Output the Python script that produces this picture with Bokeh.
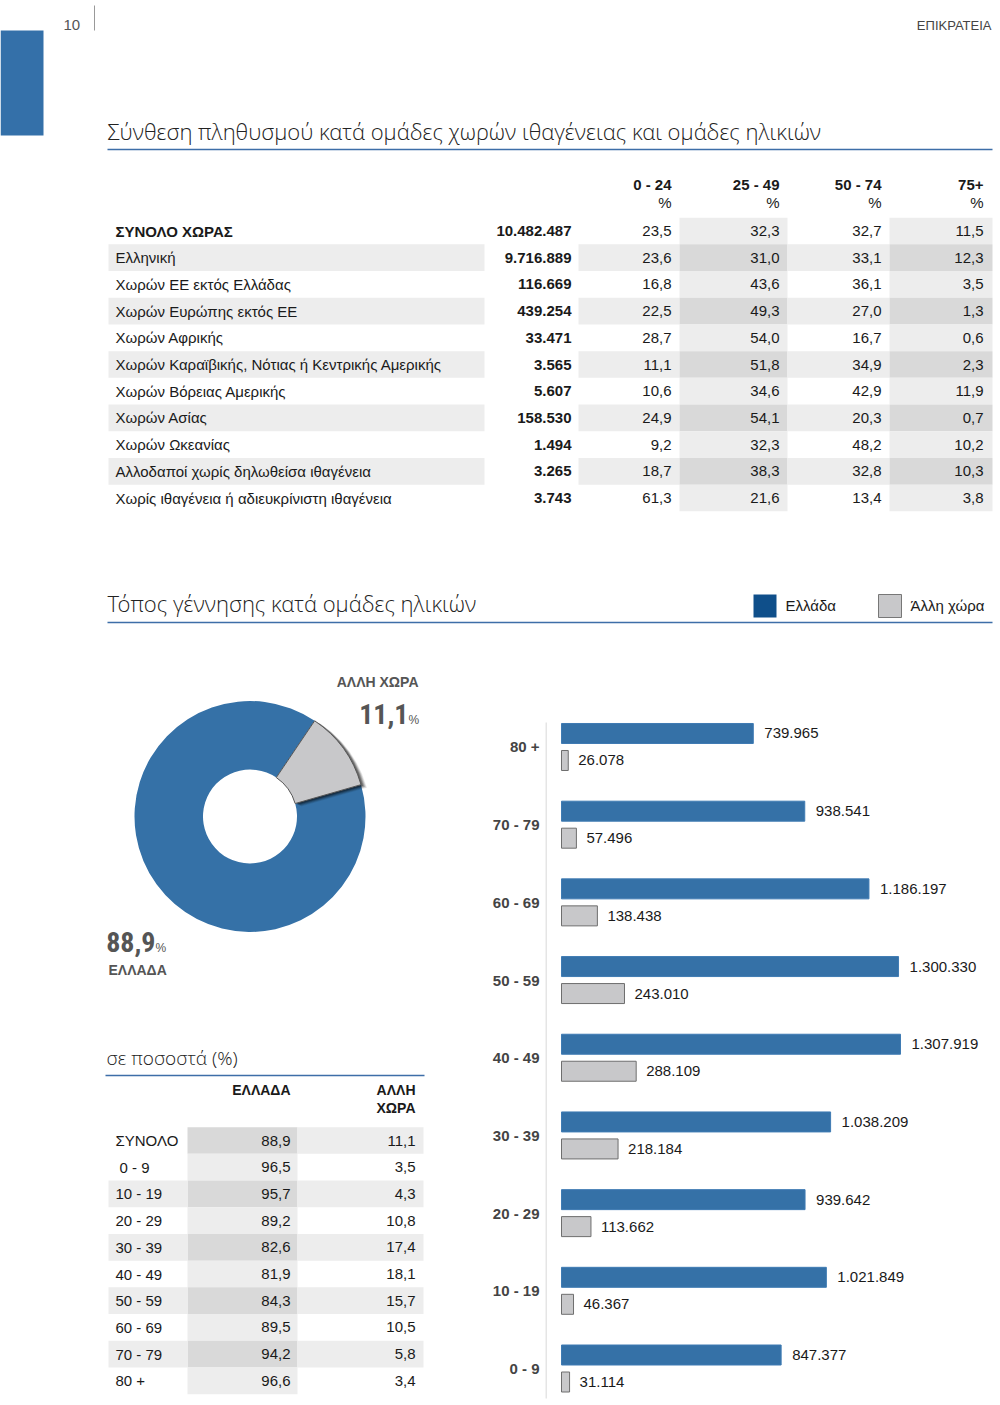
import math
from bokeh.plotting import figure
from bokeh.models import Range1d, FixedTicker
from bokeh.layouts import column, row
from bokeh.embed import file_html
from bokeh.resources import INLINE
from bokeh.core.properties import value

# ---------------- data ----------------
page_number = "10"
section_name = "ΕΠΙΚΡΑΤΕΙΑ"
title_top = "Σύνθεση πληθυσμού κατά ομάδες χωρών ιθαγένειας και ομάδες ηλικιών"
title_bottom = "Τόπος γέννησης κατά ομάδες ηλικιών"
legend_labels = ["Ελλάδα", "Άλλη χώρα"]

groups = [
    "ΣΥΝΟΛΟ ΧΩΡΑΣ", "Ελληνική", "Χωρών ΕΕ εκτός Ελλάδας", "Χωρών Ευρώπης εκτός ΕΕ",
    "Χωρών Αφρικής", "Χωρών Καραϊβικής, Νότιας ή Κεντρικής Αμερικής",
    "Χωρών Βόρειας Αμερικής", "Χωρών Ασίας", "Χωρών Ωκεανίας",
    "Αλλοδαποί χωρίς δηλωθείσα ιθαγένεια", "Χωρίς ιθαγένεια ή αδιευκρίνιστη ιθαγένεια",
]
group_totals = [10482487, 9716889, 116669, 439254, 33471, 3565, 5607, 158530, 1494, 3265, 3743]
age_groups_top = ["0 - 24", "25 - 49", "50 - 74", "75+"]
pct_0_24 = [23.5, 23.6, 16.8, 22.5, 28.7, 11.1, 10.6, 24.9, 9.2, 18.7, 61.3]
pct_25_49 = [32.3, 31.0, 43.6, 49.3, 54.0, 51.8, 34.6, 54.1, 32.3, 38.3, 21.6]
pct_50_74 = [32.7, 33.1, 36.1, 27.0, 16.7, 34.9, 42.9, 20.3, 48.2, 32.8, 13.4]
pct_75p = [11.5, 12.3, 3.5, 1.3, 0.6, 2.3, 11.9, 0.7, 10.2, 10.3, 3.8]

# birthplace by age (bottom to top on the chart)
ages = ["0 - 9", "10 - 19", "20 - 29", "30 - 39", "40 - 49", "50 - 59", "60 - 69", "70 - 79", "80 +"]
born_greece = [847377, 1021849, 939642, 1038209, 1307919, 1300330, 1186197, 938541, 739965]
born_other = [31114, 46367, 113662, 218184, 288109, 243010, 138438, 57496, 26078]

# percentage table (top to bottom)
pct_rows = ["ΣΥΝΟΛΟ", "0 - 9", "10 - 19", "20 - 29", "30 - 39", "40 - 49", "50 - 59", "60 - 69", "70 - 79", "80 +"]
pct_greece = [88.9, 96.5, 95.7, 89.2, 82.6, 81.9, 84.3, 89.5, 94.2, 96.6]
pct_other = [11.1, 3.5, 4.3, 10.8, 17.4, 18.1, 15.7, 10.5, 5.8, 3.4]
donut_labels = ["ΕΛΛΑΔΑ", "ΑΛΛΗ ΧΩΡΑ"]
pct_header = ["ΕΛΛΑΔΑ", "ΑΛΛΗ", "ΧΩΡΑ"]
pct_title = "σε ποσοστά (%)"

# ---------------- style ----------------
BLUE = "#3571a7"
DARK_BLUE = "#0f4f8a"
LINE_BLUE = "#3d6ea8"
GREY_BAR = "#c8c8ca"
LIGHT = "#ededed"
DARK = "#d9d9d9"
TXT = "#1a1a1a"
SANS = value("Liberation Sans")
TITLE_FONT = value("Open Sans Light, Open Sans")
COND = value("Liberation Sans Narrow, Roboto Condensed, Liberation Sans")

TOP_H = 650
BOT_H = 753
LEFT_W = 470
PAGE_W = 1000


def fmt_int(n):
    return f"{n:,}".replace(",", ".")


def fmt_dec(v):
    return f"{v:.1f}".replace(".", ",")


def blank(width, height, xr, yr, **kw):
    f = figure(width=width, height=height, x_range=xr, y_range=yr,
               output_backend="svg", toolbar_location=None,
               x_axis_location=None, y_axis_location=None,
               min_border=0, **kw)
    f.grid.visible = False
    f.outline_line_color = None
    return f


# ---------------- top figure (page coords) ----------------
p1 = blank(PAGE_W, TOP_H, Range1d(0, PAGE_W), Range1d(TOP_H, 0))

p1.quad(left=[0], right=[43], top=[30], bottom=[135], fill_color="#3470a9", line_color=None)
p1.text(x=[63], y=[24], text=[page_number], text_font=SANS, text_font_size="15px",
        text_color="#555555", text_baseline="middle")
p1.segment(x0=[94], x1=[94], y0=[5], y1=[30], line_color="#999999", line_width=1)
p1.text(x=[991], y=[25], text=[section_name], text_font=SANS, text_font_size="13px",
        text_color="#444444", text_baseline="middle", text_align="right")

for ty, ly, t in [(130, 149, title_top), (602, 622, title_bottom)]:
    p1.text(x=[107], y=[ty], text=[t], text_font=TITLE_FONT, text_font_size="22px",
            text_color="#222222", text_baseline="middle")
    p1.segment(x0=[107], x1=[992], y0=[ly], y1=[ly], line_color=LINE_BLUE, line_width=1.5)

# legend
p1.quad(left=[753], right=[776], top=[594], bottom=[617], fill_color=DARK_BLUE, line_color=None)
p1.quad(left=[878], right=[901], top=[594], bottom=[617], fill_color=GREY_BAR, line_color="#777777")
p1.text(x=[785, 910], y=[605, 605], text=legend_labels, text_font=SANS, text_font_size="15px",
        text_color=TXT, text_baseline="middle")

# table 1 layout
row_y0, row_step = 230.5, 26.7
label_band = (108, 484)
col_bands = [(578, 679), (679, 787), (787, 889), (889, 992)]
col_right = [671, 779, 881, 983]
total_right = 571
n = len(groups)
ys = [row_y0 + i * row_step for i in range(n)]

bl, br, bt, bb, bc = [], [], [], [], []
for i, y in enumerate(ys):
    odd = i % 2 == 1
    if odd:
        bl.append(label_band[0]); br.append(label_band[1]); bt.append(y - row_step / 2); bb.append(y + row_step / 2); bc.append(LIGHT)
    for j, (l, r) in enumerate(col_bands):
        if j in (1, 3):
            c = DARK if odd else LIGHT
        else:
            c = LIGHT if odd else None
        if c:
            bl.append(l); br.append(r); bt.append(y - row_step / 2); bb.append(y + row_step / 2); bc.append(c)
p1.quad(left=bl, right=br, top=bt, bottom=bb, fill_color=bc, line_color=None)

p1.text(x=col_right, y=[184] * 4, text=age_groups_top, text_font=SANS, text_font_size="15px",
        text_font_style="bold", text_color=TXT, text_align="right", text_baseline="middle")
p1.text(x=col_right, y=[202] * 4, text=["%"] * 4, text_font=SANS, text_font_size="15px",
        text_color=TXT, text_align="right", text_baseline="middle")

p1.text(x=[115], y=[ys[0]], text=[groups[0]], text_font=SANS, text_font_size="15px",
        text_font_style="bold", text_color=TXT, text_baseline="middle")
p1.text(x=[115] * (n - 1), y=ys[1:], text=groups[1:], text_font=SANS, text_font_size="15px",
        text_color=TXT, text_baseline="middle")
p1.text(x=[total_right] * n, y=ys, text=[fmt_int(v) for v in group_totals], text_font=SANS,
        text_font_size="15px", text_font_style="bold", text_color=TXT,
        text_align="right", text_baseline="middle")
for xr_, series in zip(col_right, [pct_0_24, pct_25_49, pct_50_74, pct_75p]):
    p1.text(x=[xr_] * n, y=ys, text=[fmt_dec(v) for v in series], text_font=SANS,
            text_font_size="15px", text_color=TXT, text_align="right", text_baseline="middle")

# ---------------- left bottom figure: donut + percent table ----------------
p2 = blank(LEFT_W, BOT_H, Range1d(0, LEFT_W), Range1d(TOP_H + BOT_H, TOP_H))

cx, cy, r_in, r_out = 249.5, 816, 47, 115.5
start0 = math.radians(16)
shares = [pct_other[0], pct_greece[0]]
angles = [start0]
for s in shares:
    angles.append(angles[-1] + 2 * math.pi * s / sum(shares))
# blue (Ελλάδα)
p2.annular_wedge(x=[cx], y=[cy], inner_radius=r_in, outer_radius=r_out,
                 start_angle=[angles[1]], end_angle=[angles[2]],
                 fill_color=BLUE, line_color=None)
# shadow for the highlighted slice
for k, a in [(6, 0.08), (5, 0.12), (4, 0.16), (3, 0.2), (2, 0.24)]:
    p2.annular_wedge(x=[cx + k], y=[cy + k * 0.5], inner_radius=r_in, outer_radius=r_out,
                     start_angle=[angles[0]], end_angle=[angles[1]],
                     fill_color="#000000", fill_alpha=a, line_color=None)
p2.annular_wedge(x=[cx], y=[cy], inner_radius=r_in, outer_radius=r_out,
                 start_angle=[angles[0]], end_angle=[angles[1]],
                 fill_color=GREY_BAR, line_color="#555555", line_width=1)

p2.text(x=[418], y=[681], text=[donut_labels[1]], text_font=SANS, text_font_size="14px",
        text_font_style="bold", text_color="#555555", text_align="right", text_baseline="middle")
p2.text(x=[408], y=[713], text=[fmt_dec(pct_other[0])], text_font=COND, text_font_size="28px",
        text_font_style="bold", text_color="#555555", text_align="right", text_baseline="middle")
p2.text(x=[408], y=[719], text=["%"], text_font=SANS, text_font_size="12px",
        text_color="#555555", text_baseline="middle")
p2.text(x=[155], y=[941], text=[fmt_dec(pct_greece[0])], text_font=COND, text_font_size="28px",
        text_font_style="bold", text_color="#555555", text_align="right", text_baseline="middle")
p2.text(x=[155], y=[947], text=["%"], text_font=SANS, text_font_size="12px",
        text_color="#555555", text_baseline="middle")
p2.text(x=[108], y=[969], text=[donut_labels[0]], text_font=SANS, text_font_size="14px",
        text_font_style="bold", text_color="#555555", text_baseline="middle")

# percent table
p2.text(x=[106], y=[1057], text=[pct_title], text_font=TITLE_FONT, text_font_size="19px",
        text_color="#222222", text_baseline="middle")
p2.segment(x0=[105], x1=[424], y0=[1075], y1=[1075], line_color=LINE_BLUE, line_width=1.5)
p2.text(x=[290, 415, 415], y=[1089, 1089, 1107], text=pct_header, text_font=SANS,
        text_font_size="14px", text_font_style="bold", text_color=TXT,
        text_align="right", text_baseline="middle")

t_y0, t_step = 1140.0, 26.7
m = len(pct_rows)
tys = [t_y0 + i * t_step for i in range(m)]
ql, qr, qt, qb, qc = [], [], [], [], []
for i, y in enumerate(tys):
    even = i % 2 == 0
    ql.append(187); qr.append(297); qt.append(y - t_step / 2); qb.append(y + t_step / 2)
    qc.append(DARK if even else LIGHT)
    if even:
        ql.append(297); qr.append(423); qt.append(y - t_step / 2); qb.append(y + t_step / 2); qc.append(LIGHT)
        if i > 0:
            ql.append(108); qr.append(187); qt.append(y - t_step / 2); qb.append(y + t_step / 2); qc.append(LIGHT)
p2.quad(left=ql, right=qr, top=qt, bottom=qb, fill_color=qc, line_color=None)
p2.text(x=[115] + [119] + [115] * (m - 2), y=tys, text=pct_rows, text_font=SANS,
        text_font_size="15px", text_color=TXT, text_baseline="middle")
p2.text(x=[290] * m, y=tys, text=[fmt_dec(v) for v in pct_greece], text_font=SANS,
        text_font_size="15px", text_color=TXT, text_align="right", text_baseline="middle")
p2.text(x=[415] * m, y=tys, text=[fmt_dec(v) for v in pct_other], text_font=SANS,
        text_font_size="15px", text_color=TXT, text_align="right", text_baseline="middle")

# ---------------- right bottom figure: bar chart ----------------
AXIS_PX = 545          # page x of the category axis
BAR0_PX = 561          # page x where the bars start
px_per_unit = 339.0 / 1307919
units_per_px = 1.0 / px_per_unit
frame_w = PAGE_W - AXIS_PX
x_start = -(BAR0_PX - AXIS_PX) * units_per_px
x_end = x_start + frame_w * units_per_px

step_px = 77.69         # distance between age groups
c_top, c_bot = 746.5, 1368.0   # page y of the top / bottom group centres
y_lo = 0 - (TOP_H + BOT_H - c_bot) / step_px
y_hi = (len(ages) - 1) + (c_top - TOP_H) / step_px

p3 = figure(width=PAGE_W - LEFT_W, height=BOT_H, x_range=Range1d(x_start, x_end),
            y_range=Range1d(y_lo, y_hi),
            output_backend="svg", toolbar_location=None, x_axis_location=None,
            min_border_left=AXIS_PX - LEFT_W, min_border_right=0, min_border_top=0, min_border_bottom=0)
p3.grid.visible = False
p3.outline_line_color = None
ax = p3.yaxis[0]
ax.ticker = FixedTicker(ticks=list(range(len(ages))))
ax.major_label_overrides = {i: a for i, a in enumerate(ages)}
ax.axis_line_color = None
ax.major_tick_line_color = None
ax.major_tick_out = 0
ax.major_tick_in = 0
ax.minor_tick_line_color = None
ax.minor_tick_out = 0
ax.major_label_text_font = "Liberation Sans"
ax.major_label_text_font_size = "15px"
ax.major_label_text_font_style = "bold"
ax.major_label_text_color = "#444444"
ax.major_label_standoff = 6

# visible axis line (shorter than the frame, as in the original)
line_top = (len(ages) - 1) + (c_top - 722) / step_px
line_bot = 0 - (1398 - c_bot) / step_px
p3.segment(x0=[x_start + 0.5 * units_per_px], x1=[x_start + 0.5 * units_per_px],
           y0=[line_bot], y1=[line_top], line_color="#dddddd", line_width=1.5)

ypos = list(range(len(ages)))
off, h = 13.5 / step_px, 20.0 / step_px
y_gr = [y + off for y in ypos]
y_ot = [y - off for y in ypos]
p3.hbar(y=y_gr, left=0, right=born_greece, height=h, fill_color=BLUE, line_color="#3f7bb3", line_width=1)
p3.hbar(y=y_ot, left=0, right=born_other, height=h, fill_color=GREY_BAR, line_color="#6e6e6e", line_width=1)
p3.text(x=born_greece, y=y_gr, text=[fmt_int(v) for v in born_greece], x_offset=11,
        text_font=SANS, text_font_size="15px", text_color=TXT, text_baseline="middle")
p3.text(x=born_other, y=y_ot, text=[fmt_int(v) for v in born_other], x_offset=10,
        text_font=SANS, text_font_size="15px", text_color=TXT, text_baseline="middle")

layout = column(p1, row(p2, p3))
open("out.html", "w").write(file_html(layout, INLINE))
